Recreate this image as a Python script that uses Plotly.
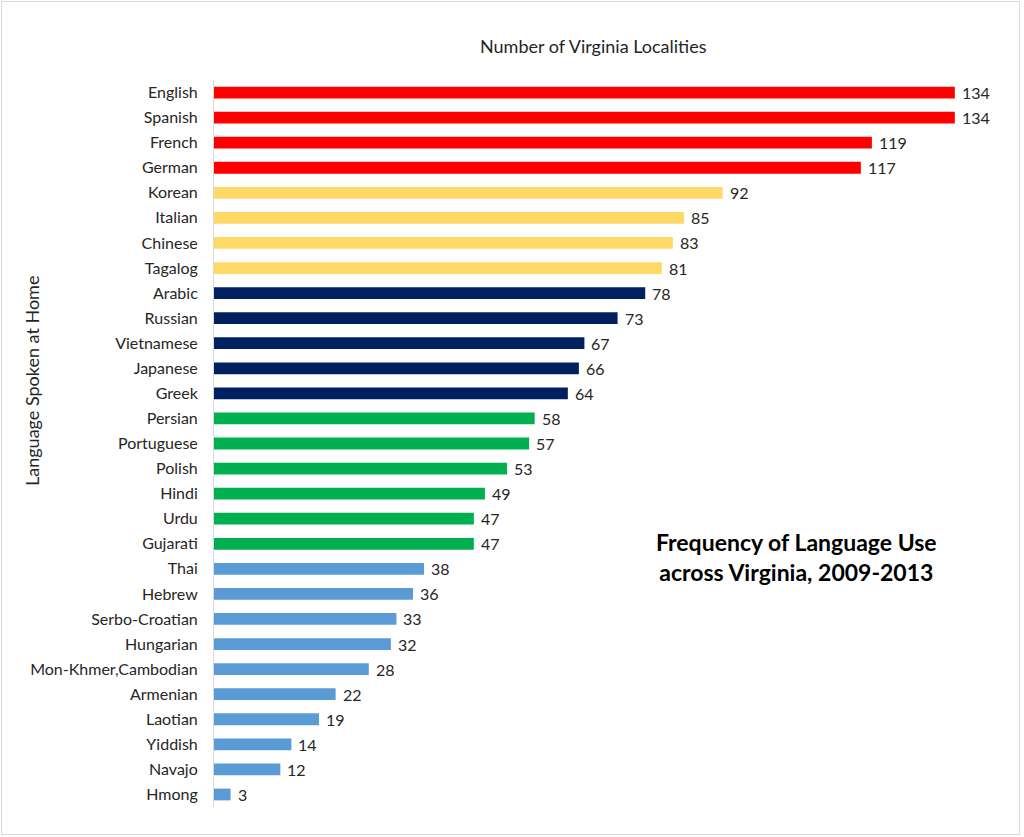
import plotly.graph_objects as go

languages = ["English", "Spanish", "French", "German", "Korean", "Italian", "Chinese", "Tagalog",
             "Arabic", "Russian", "Vietnamese", "Japanese", "Greek", "Persian", "Portuguese", "Polish",
             "Hindi", "Urdu", "Gujarati", "Thai", "Hebrew", "Serbo-Croatian", "Hungarian",
             "Mon-Khmer,Cambodian", "Armenian", "Laotian", "Yiddish", "Navajo", "Hmong"]
localities = [134, 134, 119, 117, 92, 85, 83, 81, 78, 73, 67, 66, 64, 58, 57, 53, 49, 47, 47,
              38, 36, 33, 32, 28, 22, 19, 14, 12, 3]
groups = ["top"] * 4 + ["second"] * 4 + ["third"] * 5 + ["fourth"] * 6 + ["fifth"] * 10

group_colors = {"top": "#FF0000", "second": "#FFD966", "third": "#002060",
                "fourth": "#00B050", "fifth": "#5B9BD5"}
colors = [group_colors[g] for g in groups]

W, H = 1024, 837
FONT = "Lato"

fig = go.Figure()
fig.add_trace(go.Bar(
    x=localities, y=languages, orientation="h",
    marker=dict(color=colors, line=dict(width=0)),
    width=0.47, hoverinfo="x+y",
))

for lang, v in zip(languages, localities):
    fig.add_annotation(x=v, y=lang, xref="x", yref="y", text=str(v), showarrow=False,
                       xanchor="left", yanchor="middle", xshift=5,
                       font=dict(family=FONT, size=16, color="#262626"))

x0, x1 = 214, 988
ytop, ybot = 80, 807
fig.update_layout(
    width=W, height=H,
    margin=dict(l=0, r=0, t=0, b=0),
    paper_bgcolor="white", plot_bgcolor="white",
    showlegend=False,
    xaxis=dict(domain=[x0 / W, x1 / W], range=[0, 140], visible=False, fixedrange=True),
    yaxis=dict(domain=[(H - ybot) / H, (H - ytop) / H], autorange="reversed",
               categoryorder="array", categoryarray=languages,
               showline=True, linecolor="#D9D9D9", linewidth=1, ticks="",
               showgrid=False, zeroline=False, ticklabelstandoff=12,
               tickfont=dict(family=FONT, size=16, color="#262626")),
    font=dict(family=FONT),
)

fig.add_annotation(x=593 / W, y=1 - 46 / H, xref="paper", yref="paper",
                   xanchor="center", yanchor="middle",
                   text="Number of Virginia Localities", showarrow=False,
                   font=dict(family=FONT, size=18, color="#262626"))
fig.add_annotation(x=32 / W, y=1 - 381 / H, xref="paper", yref="paper",
                   xanchor="center", yanchor="middle",
                   text="Language Spoken at Home", showarrow=False, textangle=-90,
                   font=dict(family=FONT, size=18, color="#262626"))
fig.add_annotation(x=796 / W, y=1 - 557 / H, xref="paper", yref="paper",
                   xanchor="center", yanchor="middle",
                   text="<b>Frequency of Language Use<br>across Virginia, 2009-2013</b>",
                   showarrow=False, align="center",
                   font=dict(family=FONT, size=23, color="#000000"))

fig.add_shape(type="rect", xref="paper", yref="paper",
              x0=1.5 / W, x1=1019.5 / W, y0=1 - 834.5 / H, y1=1 - 1.5 / H,
              line=dict(color="#D9D9D9", width=1))

fig.write_html("out.html", config={"displayModeBar": False},
               post_script="document.body.style.margin='0';document.body.style.overflow='hidden';")
